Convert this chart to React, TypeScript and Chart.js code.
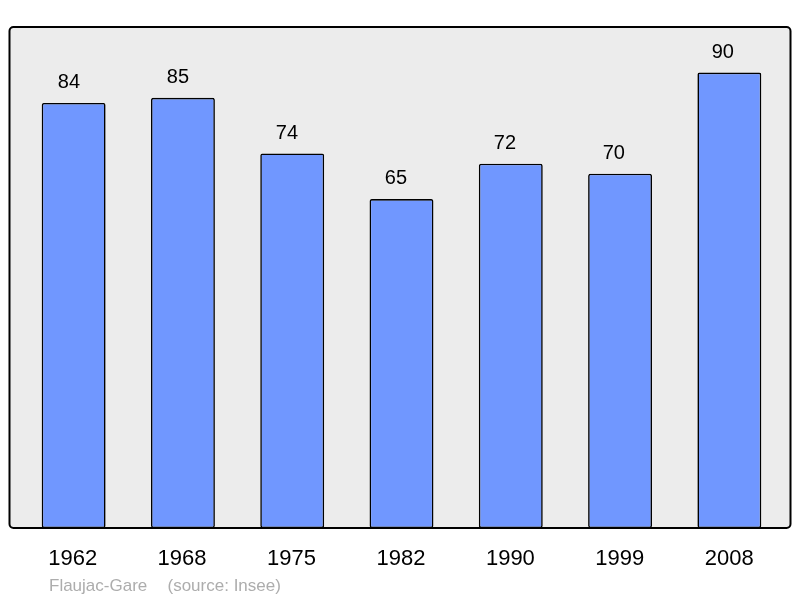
import React, { useEffect, useRef } from "react";
import { Chart, registerables } from "chart.js";

Chart.register(...registerables);

const categories = ["1962", "1968", "1975", "1982", "1990", "1999", "2008"];
const population = [84, 85, 74, 65, 72, 70, 90];
const footerName = "Flaujac-Gare";
const footerSource = "(source: Insee)";

const FONT = '"Liberation Sans", Arial, sans-serif';

const decorPlugin = {
  id: "decor",
  beforeDatasetsDraw(chart: any) {
    const ctx = chart.ctx;
    ctx.save();
    ctx.beginPath();
    (ctx as any).roundRect(9.5, 27, 781, 501, 4);
    ctx.fillStyle = "#ececec";
    ctx.fill();
    ctx.restore();
  },
  afterDatasetsDraw(chart: any) {
    const ctx = chart.ctx;
    ctx.save();
    ctx.beginPath();
    (ctx as any).roundRect(9.5, 27, 781, 501, 4);
    ctx.strokeStyle = "#000";
    ctx.lineWidth = 2;
    ctx.stroke();

    const meta = chart.getDatasetMeta(0);
    ctx.fillStyle = "#000";
    ctx.textAlign = "center";
    ctx.textBaseline = "middle";
    ctx.font = `20px ${FONT}`;
    meta.data.forEach((bar: any, i: number) => {
      ctx.fillText(String(population[i]), bar.x - 4.7 - 0.3 * i, bar.y - 20.5);
    });
    ctx.font = `22px ${FONT}`;
    const xs = chart.scales.x;
    categories.forEach((c, i) => {
      ctx.fillText(c, xs.getPixelForValue(i) - 1 + 0.15 * i, 558.5);
    });
    ctx.font = `17px ${FONT}`;
    ctx.fillStyle = "#adadad";
    ctx.textAlign = "left";
    ctx.fillText(footerName, 49, 586);
    ctx.fillText(footerSource, 167.5, 586);
    ctx.restore();
  },
};

export default function App() {
  const ref = useRef<HTMLCanvasElement>(null);
  useEffect(() => {
    document.body.style.margin = "0";
    const chart = new Chart(ref.current!, {
      type: "bar",
      data: {
        labels: categories,
        datasets: [
          {
            data: population,
            backgroundColor: "#7097ff",
            borderColor: "#000",
            borderWidth: 1.6,
            borderRadius: 2,
            borderSkipped: false,
            categoryPercentage: 1,
            barPercentage: 0.585,
          },
        ],
      },
      options: {
        responsive: false,
        animation: false,
        events: [],
        layout: { padding: { left: 19, right: 16, top: 27, bottom: 70 } },
        plugins: { legend: { display: false }, tooltip: { enabled: false } },
        scales: {
          x: { display: false },
          y: { display: false, min: 0, max: 99 },
        },
      },
      plugins: [decorPlugin],
    });
    return () => chart.destroy();
  }, []);
  return (
    <div style={{ position: "absolute", left: 0, top: 0, width: 800, height: 598, background: "#fff" }}>
      <canvas ref={ref} width={800} height={598} />
    </div>
  );
}
